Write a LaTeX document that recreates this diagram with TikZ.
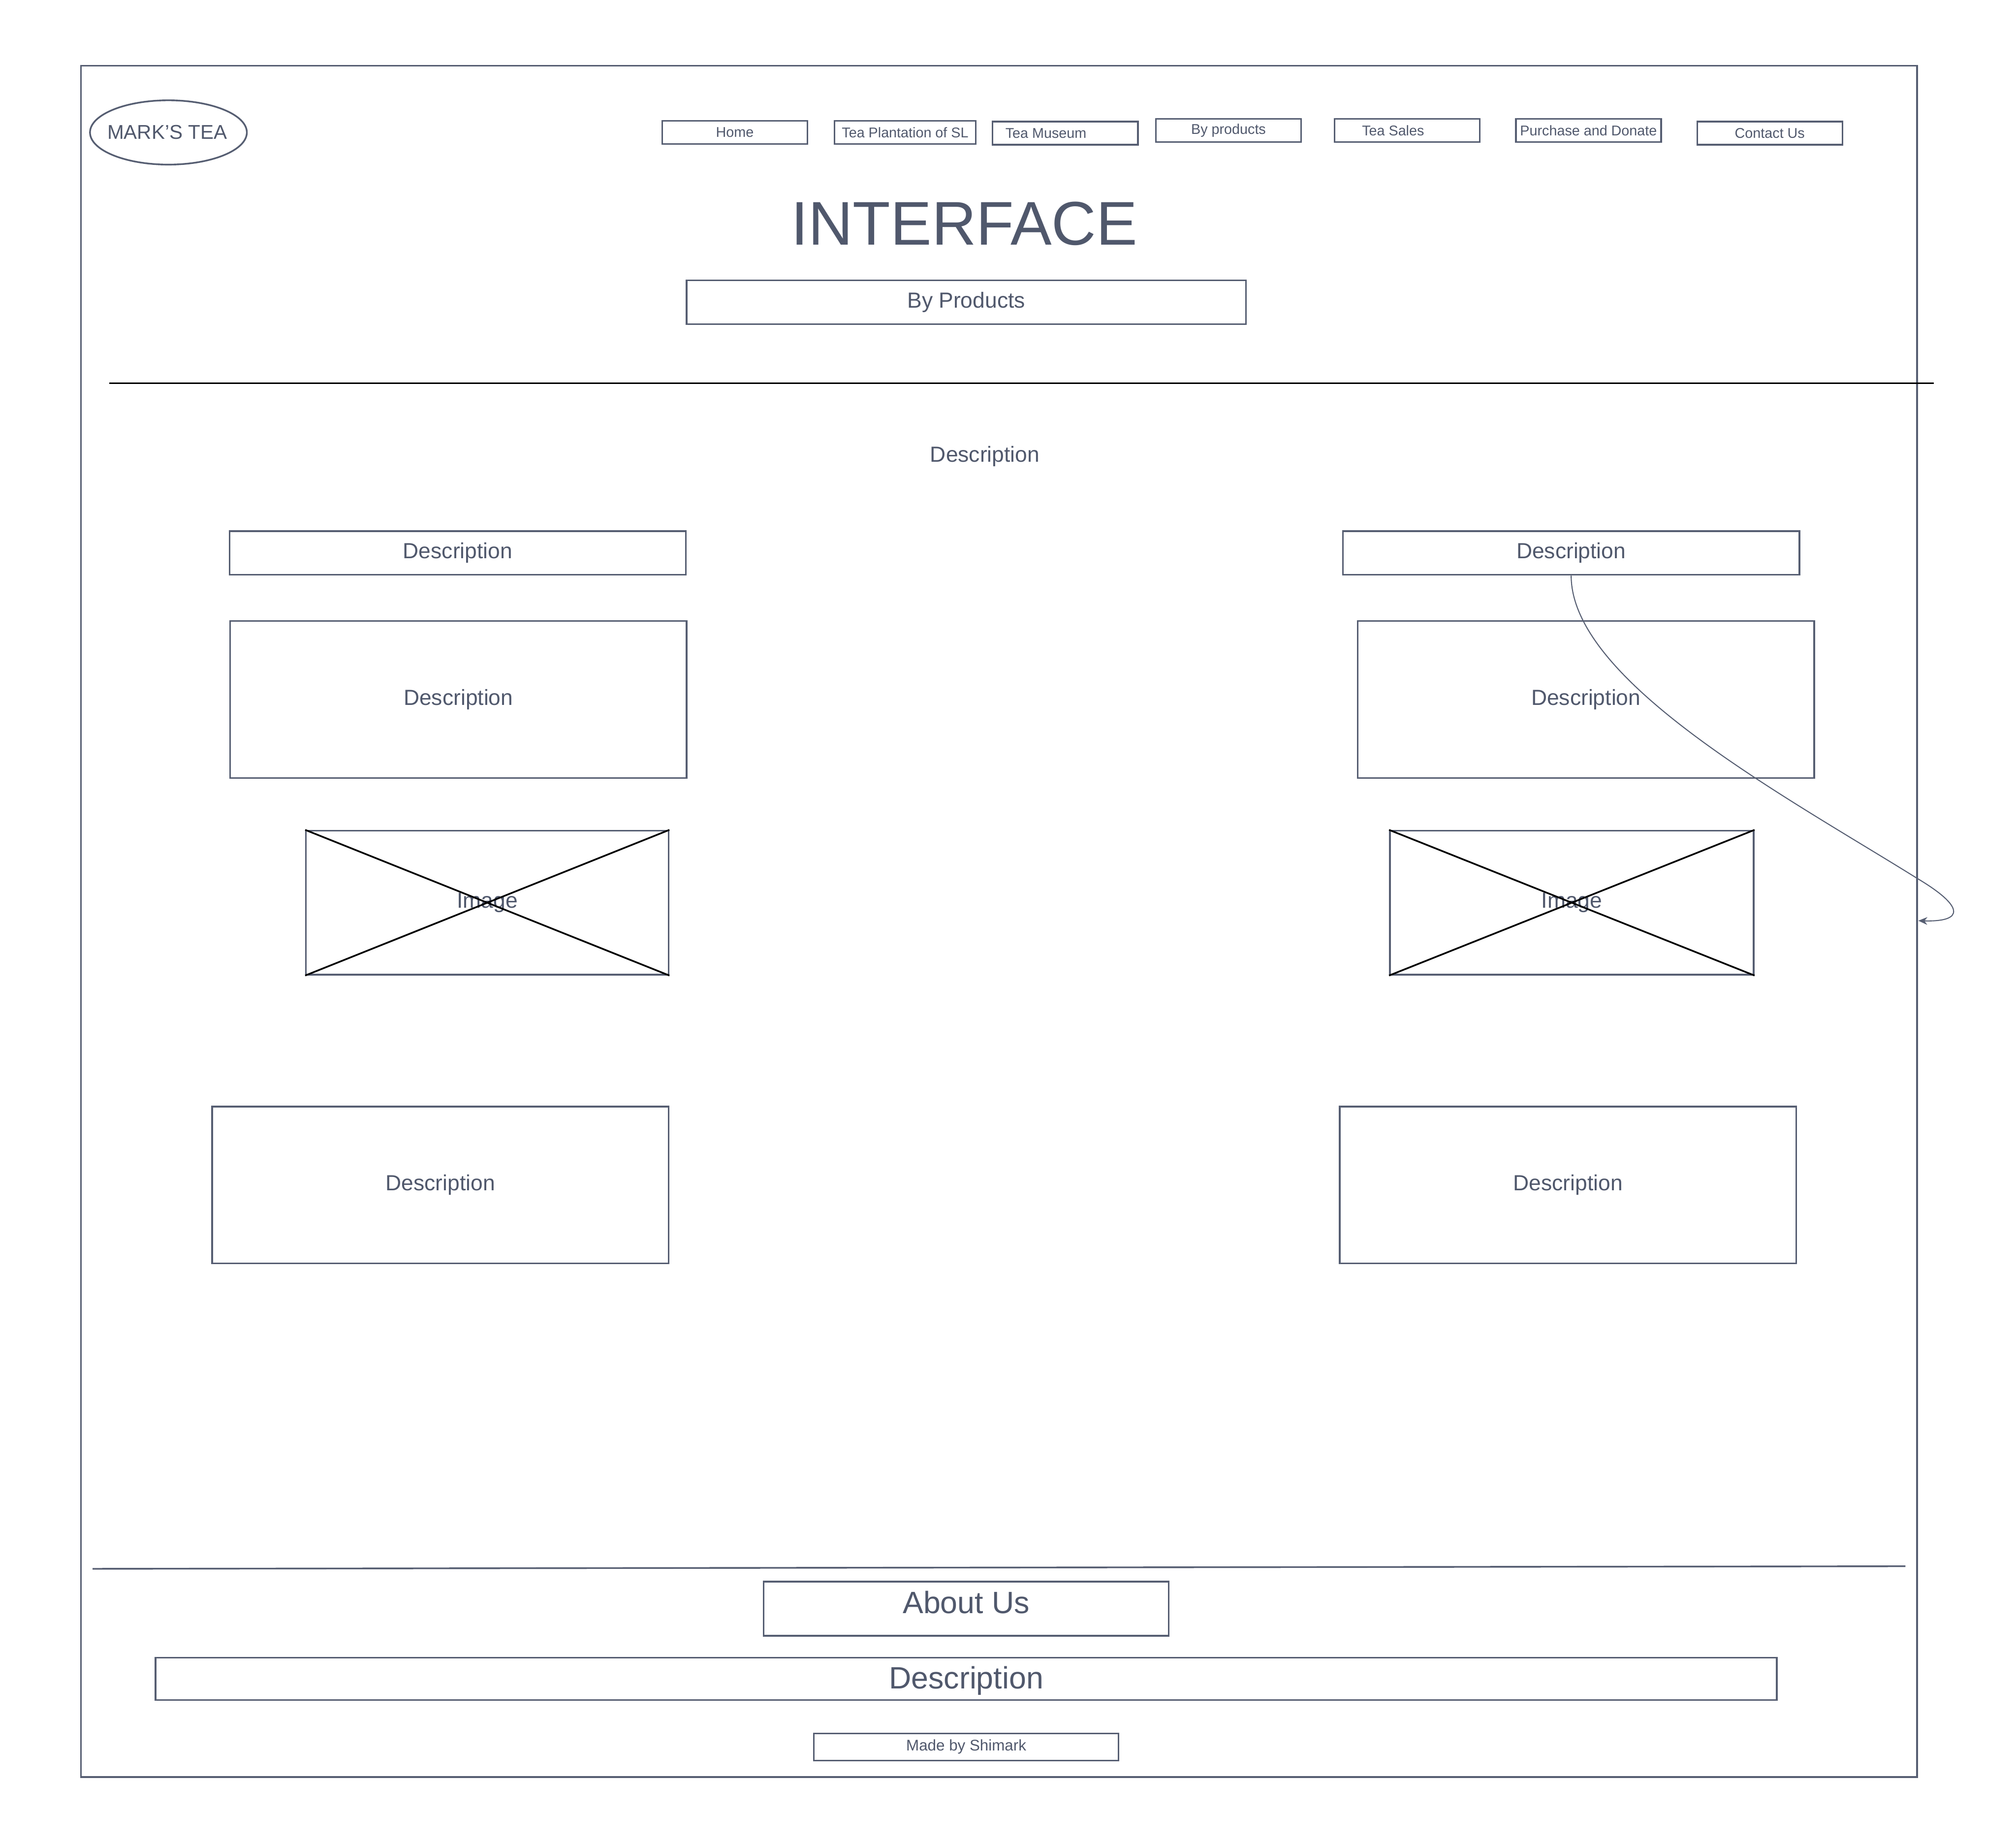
\documentclass[tikz,border=0pt]{standalone}
\usepackage{fontspec}
\setmainfont{Liberation Sans}
\usepackage{tikz}
\usetikzlibrary{arrows.meta}
\definecolor{wire}{RGB}{86,94,114}
\definecolor{ink}{RGB}{80,88,108}
\newcommand{\fsz}[1]{\fontsize{#1}{#1}\selectfont}

\begin{document}
\begin{tikzpicture}[x=1pt,y=-1pt,wbox/.style n args={2}{rectangle,draw=wire,line width=1.3pt,minimum width=#1,minimum height=#2,inner sep=0pt,text=ink,font=\fsz{17}},navbox/.style={rectangle,draw=wire,line width=1.3pt,minimum height=18pt,inner sep=0pt},navtxt/.style={text=ink,font=\fsz{11},inner sep=0pt},cross/.style={black,line width=1.3pt},conn/.style={wire,line width=0.8pt,-{Stealth[length=7pt,width=6pt]}}]
\useasboundingbox (0,0) rectangle (1568,1434);
\draw[wire,line width=1.3pt] (63,51) rectangle (1491,1382);
\draw[wire,line width=1.3pt] (131,103) ellipse [x radius=61,y radius=25];
\node[text=ink,font=\fsz{15.5},inner sep=0pt] (logo) at (130,103) {MARK'S TEA};
\foreach \x/\y/\w/\dx/\1 [count=\i] in %
{571.5/103/113/0/Home,704/103/110/0/Tea Plantation of SL,828.5/103.5/113/-15/Tea Museum,955.5/101.5/113/0/By products,1094.5/101.5/113/-11/Tea Sales,1235.5/101.5/113/0/Purchase and Donate,1376.5/103.5/113/0/Contact Us} {
   \node[navbox,minimum width=\w pt] (nav\i) at (\x,\y) {};
   \node[navtxt] (navlbl\i) at ([xshift=\dx pt]nav\i.center) {\1};
}
\node[text=ink,font=\fsz{48}] (title) at (750,174) {INTERFACE};
\node[wbox={435pt}{34pt}] (hdr) at (751.5,235) {By Products};
\draw[black,line width=1.3pt] (85,298) -- (1504,298);
\node[text=ink,font=\fsz{17}] (intro) at (766,355) {Description};
\node[wbox={355pt}{34pt}] (ldesc) at (356,430) {Description};
\node[wbox={355pt}{34pt}] (rdesc) at (1222,430) {Description};
\node[wbox={355pt}{122pt}] (lbody) at (356.5,544) {Description};
\node[wbox={355pt}{122pt}] (rbody) at (1233.5,544) {Description};
\node[wbox={282pt}{112pt}] (limg) at (379,702) {Image};
\node[wbox={283pt}{112pt}] (rimg) at (1222.5,702) {Image};
\draw[cross] (limg.north west) -- (limg.south east) (limg.south west) -- (limg.north east);
\draw[cross] (rimg.north west) -- (rimg.south east) (rimg.south west) -- (rimg.north east);
\node[wbox={355pt}{122pt}] (lfoot) at (342.5,921.5) {Description};
\node[wbox={355pt}{122pt}] (rfoot) at (1219.5,921.5) {Description};
\draw[wire,line width=1.3pt] (72,1220) -- (1482,1218);
\node[wbox={315pt}{42pt}] (about) at (751.5,1251) {};
\node[text=ink,font=\fsz{24},inner sep=0pt] (abouttxt) at (751.5,1246) {About Us};
\node[wbox={1261pt}{33pt}] (aboutdesc) at (751.5,1305.5) {};
\node[text=ink,font=\fsz{24},inner sep=0pt] (aboutdesctxt) at (751.5,1307) {Description};
\node[wbox={237pt}{21pt},font=\fsz{12}] (credit) at (751.5,1358.5) {Made by Shimark};
\coordinate (edge) at (1492,716);
\draw[conn] (rdesc.south) .. controls (1222,530) and (1390,620) .. (1491,683) .. controls (1528,705) and (1528,717) .. (edge);
\end{tikzpicture}
\end{document}
